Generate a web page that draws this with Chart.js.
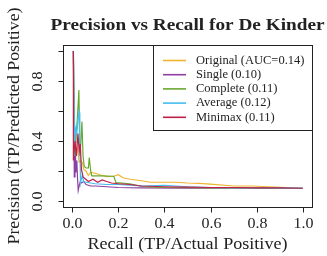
<!DOCTYPE html>
<html>
<head>
<meta charset="utf-8">
<script src="https://cdn.jsdelivr.net/npm/chart.js@4"></script>
<style>
  body { margin: 0; background: #fff; }
  canvas { display: block; }
</style>
</head>
<body>
<canvas id="prChart" width="327" height="256"></canvas>
<script>
// Curvas precision-recall, valores
const recallOriginal = [0.005, 0.008, 0.015, 0.022, 0.03, 0.038, 0.045, 0.05, 0.06, 0.07, 0.08, 0.1, 0.12, 0.15, 0.18, 0.2, 0.22, 0.25, 0.3, 0.34, 0.4, 0.45, 0.5, 0.55, 0.6, 0.7, 0.78, 0.85, 0.93];
const precOriginal   = [1.0, 0.5, 0.3, 0.35, 0.26, 0.27, 0.25, 0.21, 0.2, 0.17, 0.19, 0.185, 0.175, 0.162, 0.165, 0.175, 0.155, 0.145, 0.135, 0.125, 0.125, 0.125, 0.12, 0.118, 0.113, 0.1, 0.1, 0.095, 0.09];

const recallSingle = [0.005, 0.009, 0.012, 0.016, 0.02, 0.023, 0.026, 0.03, 0.035, 0.04, 0.05, 0.06, 0.08, 0.1, 0.15, 0.2, 0.3, 0.5, 0.7, 1.0];
const precSingle   = [1.0, 0.16, 0.45, 0.19, 0.27, 0.15, 0.07, 0.1, 0.13, 0.12, 0.13, 0.11, 0.1, 0.1, 0.095, 0.09, 0.087, 0.086, 0.085, 0.085];

const recallComplete = [0.005, 0.012, 0.018, 0.024, 0.029, 0.033, 0.038, 0.042, 0.047, 0.052, 0.06, 0.07, 0.074, 0.08, 0.085, 0.12, 0.18, 0.19, 0.25, 0.31, 0.4, 0.6, 0.8, 1.0];
const precComplete   = [1.0, 0.3, 0.45, 0.6, 0.74, 0.3, 0.4, 0.53, 0.3, 0.23, 0.22, 0.22, 0.29, 0.2, 0.167, 0.167, 0.165, 0.122, 0.115, 0.095, 0.09, 0.088, 0.087, 0.085];

const recallAverage = [0.005, 0.01, 0.013, 0.02, 0.025, 0.03, 0.033, 0.036, 0.043, 0.05, 0.06, 0.08, 0.1, 0.15, 0.2, 0.3, 0.4, 0.5, 0.6, 0.8, 1.0];
const precAverage   = [1.0, 0.3, 0.49, 0.45, 0.55, 0.59, 0.39, 0.12, 0.17, 0.13, 0.125, 0.12, 0.115, 0.11, 0.11, 0.1, 0.105, 0.095, 0.09, 0.087, 0.085];

const recallMinimax = [0.005, 0.005, 0.012, 0.018, 0.025, 0.03, 0.035, 0.04, 0.047, 0.055, 0.07, 0.09, 0.11, 0.13, 0.15, 0.17, 0.2, 0.25, 0.3, 0.4, 0.5, 0.6, 0.7, 0.8, 0.9, 1.0];
const precMinimax   = [1.0, 0.27, 0.4, 0.3, 0.45, 0.33, 0.38, 0.21, 0.16, 0.15, 0.13, 0.145, 0.125, 0.14, 0.13, 0.12, 0.115, 0.11, 0.1, 0.095, 0.093, 0.09, 0.09, 0.088, 0.087, 0.085];

const seriesNames = ['Original (AUC=0.14)', 'Single (0.10)', 'Complete (0.11)', 'Average (0.12)', 'Minimax (0.11)'];
const xTicks = [0, 0.2, 0.4, 0.6, 0.8, 1.0];
const xTickLabels = ['0.0', '0.2', '0.4', '0.6', '0.8', '1.0'];
const yTicks = [0, 0.2, 0.4, 0.6, 0.8, 1.0];
const yTickLabels = ['0.0', '', '0.4', '', '0.8', ''];

const serif = '"Liberation Serif", "DejaVu Serif", serif';
const colores = ['#f0b530', '#8e3fa3', '#6aa832', '#45bdf0', '#c01f48'];

function puntos(rx, py) {
    return rx.map((r, i) => ({ x: r, y: py[i] }));
}

const curvas = [
    puntos(recallOriginal, precOriginal),
    puntos(recallSingle, precSingle),
    puntos(recallComplete, precComplete),
    puntos(recallAverage, precAverage),
    puntos(recallMinimax, precMinimax)
];

// texto estirado en horizontal para parecerse a Computer Modern (mas ancha)
function textoAncho(ctx, txt, x, y, ancho) {
    const w = ctx.measureText(txt).width;
    const k = ancho / w;
    ctx.save();
    ctx.translate(x, y);
    ctx.scale(k, 1);
    ctx.fillText(txt, 0, 0);
    ctx.restore();
}

// marco, ejes, titulos y leyenda al estilo de R
const marcoPlugin = {
    id: 'marco',
    afterDatasetsDraw(chart) {
        const ctx = chart.ctx;
        const a = chart.chartArea;
        const xs = chart.scales.x;
        const ys = chart.scales.y;
        const L = Math.round(a.left) + 0.5, R = Math.round(a.right) + 0.5;
        const T = Math.round(a.top) + 0.5, B = Math.round(a.bottom) + 0.5;
        ctx.save();
        ctx.strokeStyle = '#222';
        ctx.lineWidth = 1;
        ctx.strokeRect(L, T, R - L, B - T);

        // ticks eje x
        ctx.fillStyle = '#222';
        ctx.font = '15.5px ' + serif;
        ctx.textAlign = 'center';
        ctx.textBaseline = 'alphabetic';
        xTicks.forEach((v, i) => {
            const px = Math.round(xs.getPixelForValue(v)) + 0.5;
            ctx.beginPath();
            ctx.moveTo(px, B);
            ctx.lineTo(px, B + 5);
            ctx.stroke();
            textoAncho(ctx, xTickLabels[i], px, 228, 20);
        });

        // ticks eje y (etiquetas giradas)
        yTicks.forEach((v, i) => {
            const py = Math.round(ys.getPixelForValue(v)) + 0.5;
            ctx.beginPath();
            ctx.moveTo(L - 5, py);
            ctx.lineTo(L, py);
            ctx.stroke();
            if (yTickLabels[i]) {
                ctx.save();
                ctx.translate(42, py);
                ctx.rotate(-Math.PI / 2);
                textoAncho(ctx, yTickLabels[i], 0, 0, 20);
                ctx.restore();
            }
        });

        // titulos de ejes
        const cx = (a.left + a.right) / 2;
        const cy = (a.top + a.bottom) / 2;
        ctx.font = '16px ' + serif;
        textoAncho(ctx, 'Recall (TP/Actual Positive)', cx, 249, 200);
        ctx.save();
        ctx.translate(19, cy);
        ctx.rotate(-Math.PI / 2);
        textoAncho(ctx, 'Precision (TP/Predicted Positive)', 0, 0, 237);
        ctx.restore();

        ctx.font = 'bold 17px ' + serif;
        textoAncho(ctx, 'Precision vs Recall for De Kinder', cx, 29.5, 274);

        // leyenda
        const lx = 153.5, ly = T;
        ctx.fillStyle = '#fff';
        ctx.fillRect(lx, ly, R - lx, 130 - ly);
        ctx.strokeStyle = '#222';
        ctx.strokeRect(lx, ly, R - lx, 130.5 - ly);
        ctx.font = '12.5px ' + serif;
        ctx.textAlign = 'left';
        ctx.textBaseline = 'middle';
        ctx.lineWidth = 1.6;
        seriesNames.forEach((name, i) => {
            const y = 60.5 + i * 14.2;
            ctx.strokeStyle = colores[i];
            ctx.beginPath();
            ctx.moveTo(163, y);
            ctx.lineTo(186, y);
            ctx.stroke();
            ctx.fillStyle = '#222';
            ctx.fillText(name, 196, y);
        });
        ctx.restore();
    }
};

new Chart(document.getElementById('prChart'), {
    type: 'line',
    data: {
        datasets: curvas.map((d, i) => ({
            label: seriesNames[i],
            data: d,
            borderColor: colores[i],
            borderWidth: 1.2,
            pointRadius: 0,
            tension: 0,
            fill: false,
            order: curvas.length - i
        }))
    },
    options: {
        responsive: false,
        animation: false,
        layout: { padding: { left: 63, right: 15, top: 45, bottom: 49 } },
        scales: {
            x: { type: 'linear', min: -0.04, max: 1.04, display: false },
            y: { type: 'linear', min: -0.04, max: 1.04, display: false }
        },
        plugins: {
            legend: { display: false },
            tooltip: { enabled: false }
        }
    },
    plugins: [marcoPlugin]
});
</script>
</body>
</html>
